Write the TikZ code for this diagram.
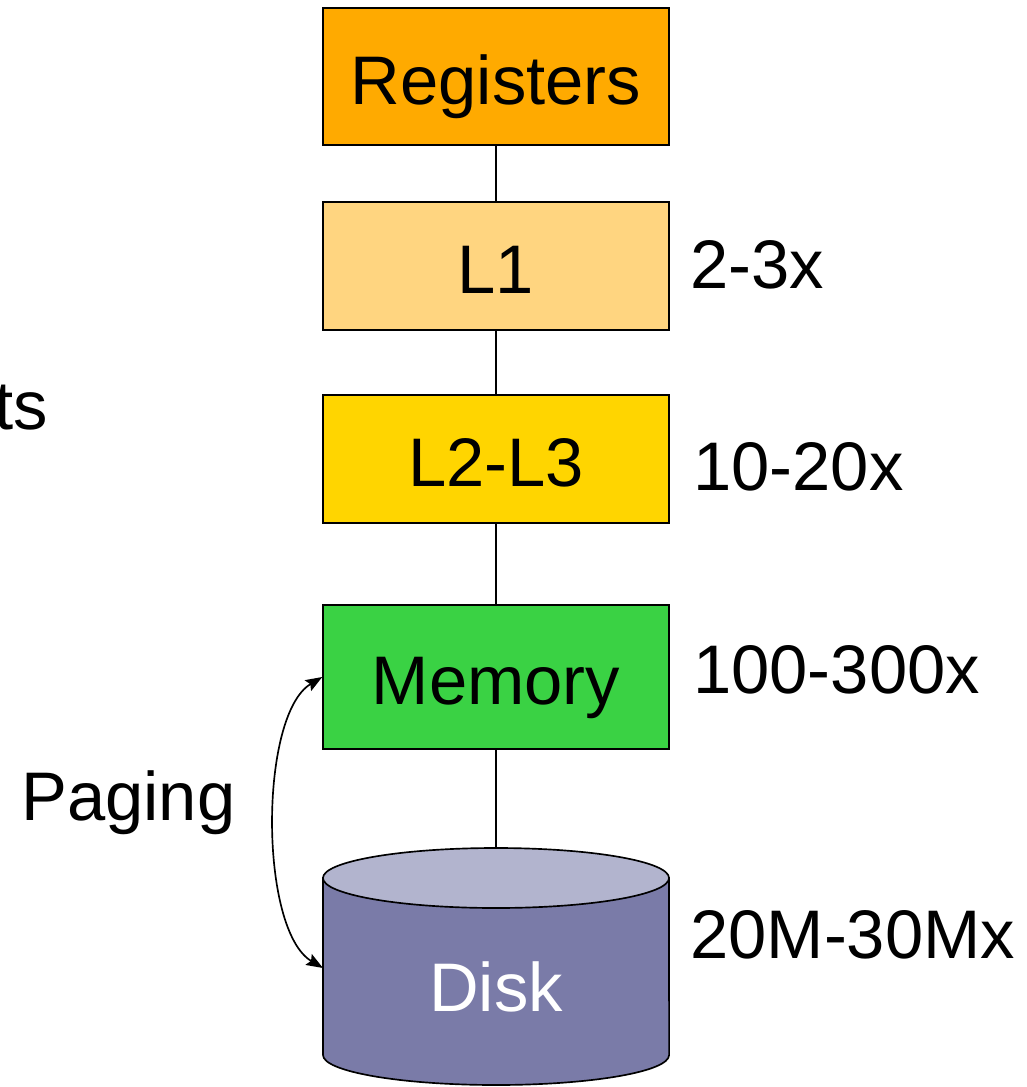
\documentclass[tikz,border=0pt]{standalone}
\usepackage{fontspec}
\setmainfont{Liberation Sans}
\usepackage{tikz}
\usetikzlibrary{arrows,arrows.meta,positioning,calc}
\usepackage{xcolor}
\definecolor{regorange}{RGB}{255,170,0}
\definecolor{lonefill}{RGB}{255,213,128}
\definecolor{ltwofill}{RGB}{255,213,0}
\definecolor{memgreen}{RGB}{58,210,68}
\definecolor{diskside}{RGB}{122,123,168}
\definecolor{disktop}{RGB}{178,180,206}

\begin{document}
\begin{tikzpicture}[x=0.72pt, y=-0.72pt,
    bigtext/.style={font=\fontsize{49.5}{58}\selectfont},
    level/.style={rectangle, draw=black, line width=1.2pt, minimum width=249pt, text height=39.6pt, text depth=0pt, bigtext},
    diskbody/.style={rectangle, minimum width=249pt, minimum height=149pt, text height=39.6pt, text depth=0pt, text=white, bigtext},
    latency/.style={anchor=base west, inner sep=0pt, bigtext},
    link/.style={line width=0.8pt},
    paging/.style={{Stealth[length=12pt,width=9pt,inset=2pt]}-{Stealth[length=12pt,width=9pt,inset=2pt]}, line width=1.2pt}
]
\useasboundingbox (0,0) rectangle (1027,1087);

% Hierarchy levels
\node[level, fill=regorange, minimum height=98.6pt] (regs) at (496,76.5) {Registers};
\node[level, fill=lonefill, minimum height=92.2pt] (l1) at (496,266) {L1};
\node[level, fill=ltwofill, minimum height=92.2pt] (l23) at (496,459) {L2-L3};
\node[level, fill=memgreen, minimum height=103.7pt] (mem) at (496,677) {Memory};

% Disk (cylinder)
\draw[fill=diskside, line width=1.2pt] (323,878) -- (323,1055)
    arc[start angle=180, end angle=360, x radius=124.6pt, y radius=21.6pt] -- (669,878) -- cycle;
\node[diskbody] (disk) at (496,984) {Disk};

% Links between levels
\draw[link] (regs) -- (l1);
\draw[link] (l1) -- (l23);
\draw[link] (l23) -- (mem);
\draw[link] (mem) -- (disk);

% Disk top
\draw[fill=disktop, line width=1.2pt] (496,878) ellipse[x radius=124.6pt, y radius=21.6pt];

% Latencies
\node[latency] (latl1) at (690,288) {2-3x};
\node[latency] (latl23) at (693,490) {10-20x};
\node[latency] (latmem) at (693,693) {100-300x};
\node[latency] (latdisk) at (690,958) {20M-30Mx};

% Left side
\node[bigtext, anchor=base east, inner sep=0pt] (cut) at (48,429) {ts};
\node[latency] (pg) at (21,820) {Paging};
\coordinate (diskin) at (323,968);
\draw[paging] (mem.west) .. controls (259,715) and (259,930) .. (diskin);

\end{tikzpicture}
\end{document}
